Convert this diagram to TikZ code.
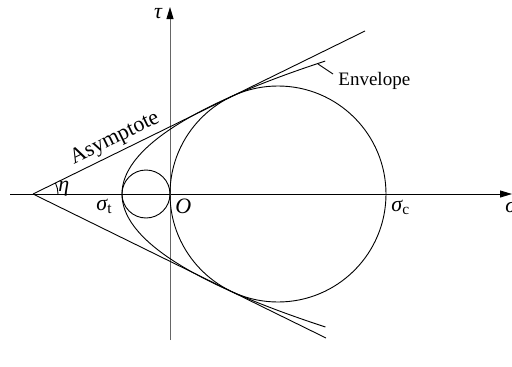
\documentclass[tikz,border=0pt]{standalone}
\usepackage{fontspec}
\setmainfont{Liberation Serif}
\usetikzlibrary{arrows.meta}
\begin{document}
\begin{tikzpicture}[x=1pt,y=-1pt,
  line width=0.9pt,
  lbl/.style={font=\fontsize{19}{22}\selectfont, inner sep=0pt},
  mlbl/.style={font=\fontsize{22}{26}\selectfont, inner sep=0pt},
  axarrow/.style={-{Triangle[length=12pt,width=7pt,color=black]}},
]
\useasboundingbox (0,0) rectangle (512,367);
\coordinate (A) at (33,194);
\coordinate (Xs) at (10,194);
\coordinate (Xe) at (512,194);
\coordinate (Ys) at (170,340);
\coordinate (Ye) at (170,7);
\coordinate (U) at (365,31);
\coordinate (D) at (326,338);
\coordinate (C1) at (278,194);
\coordinate (C2) at (146,194);
\coordinate (L) at (318,64);
\coordinate (Lend) at (333,74);
\draw[axarrow] (Xs) -- (Xe);
\draw[axarrow, draw=black!60] (Ys) -- (Ye);
\draw (C1) circle[radius=108];
\draw (C2) circle[radius=24];
\draw (A) -- (U);
\draw (A) -- (D);
\draw plot[domain=-1.33:1.33, samples=90, smooth] ({122+115*(\x)*(\x)},{194-100*(\x)});
\draw (58,194) arc[start angle=0, end angle=-26.15, radius=25];
\draw (L) -- (Lend);
\node[mlbl, anchor=base] (tau) at (158,18) {\itshape τ};
\node[mlbl, anchor=base west] (eta) at (58,191) {\itshape η};
\node[mlbl, anchor=base west] (st) at (96,210) {\itshape σ\textsubscript{\upshape t}};
\node[mlbl, anchor=base west] (O) at (175,213) {\itshape O};
\node[mlbl, anchor=base west] (sc) at (391,211) {\itshape σ\textsubscript{\upshape c}};
\node[mlbl, anchor=base west] (sx) at (505,212) {\itshape σ};
\node[lbl, anchor=base west] (env) at (338,85) {Envelope};
\path (A) -- (U) node[mlbl, pos=0.265, sloped, anchor=south, inner sep=3.5pt] (asy) {Asymptote};
\end{tikzpicture}
\end{document}
